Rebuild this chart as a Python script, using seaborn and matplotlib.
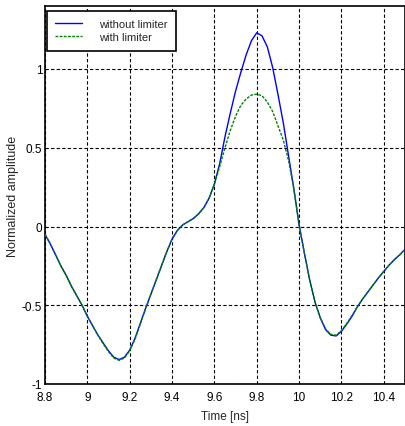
import matplotlib
matplotlib.use("Agg")
import matplotlib.pyplot as plt
import numpy as np
import pandas as pd
import seaborn as sns

# Time axis in ns
time_ns = [
    8.800, 8.825, 8.850, 8.875, 8.900, 8.925, 8.950, 8.975,
    9.000, 9.025, 9.050, 9.075, 9.100, 9.125, 9.150, 9.175,
    9.200, 9.225, 9.250, 9.275, 9.300, 9.325, 9.350, 9.375,
    9.400, 9.425, 9.450, 9.475, 9.500, 9.525, 9.550, 9.575,
    9.600, 9.625, 9.650, 9.675, 9.700, 9.725, 9.750, 9.775,
    9.800, 9.825, 9.850, 9.875, 9.900, 9.925, 9.950, 9.975,
    10.000, 10.025, 10.050, 10.075, 10.100, 10.125, 10.150, 10.175,
    10.200, 10.225, 10.250, 10.275, 10.300, 10.325, 10.350, 10.375,
    10.400, 10.425, 10.450, 10.475, 10.500,
]

# Normalized amplitude without the limiter
without_limiter = [
    -0.05, -0.11, -0.18, -0.25, -0.31, -0.38, -0.44, -0.50,
    -0.57, -0.63, -0.69, -0.74, -0.79, -0.83, -0.845, -0.83,
    -0.785, -0.71, -0.615, -0.52, -0.43, -0.34, -0.25, -0.16,
    -0.08, -0.025, 0.01, 0.03, 0.05, 0.08, 0.12, 0.18,
    0.27, 0.40, 0.57, 0.72, 0.86, 0.98, 1.09, 1.18,
    1.23, 1.21, 1.14, 1.01, 0.84, 0.66, 0.45, 0.24,
    0.01, -0.17, -0.34, -0.48, -0.58, -0.655, -0.69, -0.695,
    -0.665, -0.62, -0.57, -0.51, -0.46, -0.415, -0.37, -0.325,
    -0.285, -0.245, -0.21, -0.18, -0.145,
]

# Normalized amplitude with the limiter
with_limiter = [
    -0.05, -0.11, -0.18, -0.25, -0.31, -0.38, -0.44, -0.50,
    -0.57, -0.63, -0.69, -0.745, -0.795, -0.835, -0.85, -0.835,
    -0.79, -0.715, -0.62, -0.52, -0.43, -0.34, -0.25, -0.16,
    -0.08, -0.025, 0.01, 0.03, 0.05, 0.08, 0.12, 0.18,
    0.27, 0.38, 0.50, 0.61, 0.70, 0.77, 0.81, 0.835,
    0.84, 0.83, 0.79, 0.73, 0.64, 0.55, 0.42, 0.24,
    0.01, -0.17, -0.34, -0.48, -0.58, -0.65, -0.685, -0.69,
    -0.66, -0.615, -0.565, -0.51, -0.46, -0.415, -0.37, -0.325,
    -0.285, -0.245, -0.21, -0.18, -0.145,
]

x_ticks = [8.8, 9.0, 9.2, 9.4, 9.6, 9.8, 10.0, 10.2, 10.4]
x_tick_labels = ["8.8", "9", "9.2", "9.4", "9.6", "9.8", "10", "10.2", "10.4"]
y_ticks = [-1.0, -0.5, 0.0, 0.5, 1.0]
y_tick_labels = ["-1", "-0.5", "0", "0.5", "1"]

df = pd.DataFrame({
    "t": time_ns + time_ns,
    "amp": without_limiter + with_limiter,
    "series": ["without limiter"] * len(time_ns) + ["with limiter"] * len(time_ns),
})

sns.set_style("white")
plt.rcParams["font.family"] = ["Liberation Sans", "DejaVu Sans"]

fig = plt.figure(figsize=(4.05, 4.27), dpi=100)
ax = fig.add_axes([45 / 405, 1 - 385 / 427, 1 - 45 / 405, (385 - 7) / 427])

sns.lineplot(data=df[df.series == "without limiter"], x="t", y="amp",
             color="#0000ff", linewidth=1.0, ax=ax, label="without limiter",
             zorder=3)
sns.lineplot(data=df[df.series == "with limiter"], x="t", y="amp",
             color="#008000", linewidth=1.0, linestyle=(0, (2, 1)), ax=ax,
             label="with limiter", zorder=4)

ax.set_xlim(8.8, 10.5)
ax.set_ylim(-1.0, 1.4)
ax.set_xticks(x_ticks)
ax.set_xticklabels(x_tick_labels)
ax.set_yticks(y_ticks)
ax.set_yticklabels(y_tick_labels)
ax.tick_params(axis="both", length=0, labelsize=8.5, colors="black")
ax.tick_params(axis="x", pad=5)
ax.tick_params(axis="y", pad=2)

ax.grid(True, color="black", linestyle=(0, (3, 2)), linewidth=0.8)
ax.set_axisbelow(True)
for side in ["left", "bottom", "top", "right"]:
    ax.spines[side].set_visible(True)
    ax.spines[side].set_color("black")
    ax.spines[side].set_linewidth(1.2)

ax.set_xlabel("Time [ns]", fontsize=8.5, labelpad=5)
ax.set_ylabel("Normalized amplitude", fontsize=9, labelpad=2)

leg = ax.legend(loc="upper left", bbox_to_anchor=(0.006, 0.988), fontsize=8,
                frameon=True, fancybox=False, framealpha=1.0, edgecolor="black",
                handlelength=2.4, handletextpad=1.5, labelspacing=0.3,
                borderpad=0.75, borderaxespad=0.0)
leg.get_frame().set_linewidth(1.2)

fig.savefig("out.png", dpi=100)
